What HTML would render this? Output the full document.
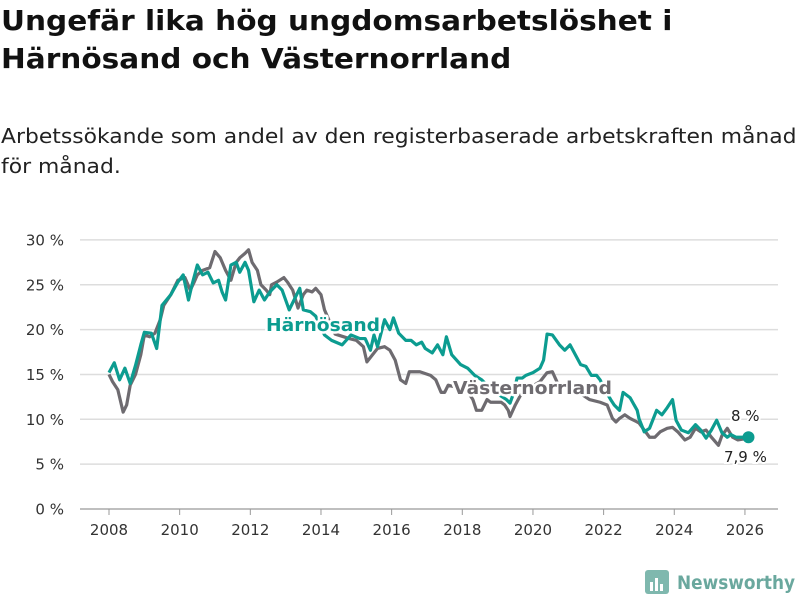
<!DOCTYPE html>
<html><head><meta charset="utf-8">
<style>
body{margin:0;background:#fff;width:800px;height:600px;overflow:hidden;font-family:"DejaVu Sans","Liberation Sans",sans-serif;}
h1{position:absolute;left:1px;top:2px;margin:0;font-size:28px;line-height:38px;font-weight:bold;color:#111;white-space:nowrap;transform-origin:0 0;transform:scaleX(1.056);}
p{position:absolute;left:1px;top:121px;margin:0;font-size:20px;line-height:30px;color:#222;white-space:nowrap;transform-origin:0 0;transform:scaleX(1.093);}
svg{position:absolute;left:0;top:0;}
</style></head><body>
<h1>Ungefär lika hög ungdomsarbetslöshet i<br>Härnösand och Västernorrland</h1>
<p>Arbetssökande som andel av den registerbaserade arbetskraften månad<br>för månad.</p>
<svg id="c" width="800" height="600" font-family="DejaVu Sans, Liberation Sans, sans-serif"></svg>
<script>
const hDates=[2008.0,2008.15,2008.3,2008.45,2008.6,2008.75,2008.9,2009.0,2009.2,2009.35,2009.5,2009.75,2009.95,2010.1,2010.25,2010.35,2010.5,2010.65,2010.8,2010.95,2011.1,2011.2,2011.3,2011.45,2011.6,2011.7,2011.85,2011.95,2012.1,2012.25,2012.4,2012.5,2012.6,2012.75,2012.9,2013.1,2013.4,2013.5,2013.7,2013.85,2014.1,2014.3,2014.6,2014.85,2015.1,2015.25,2015.4,2015.5,2015.6,2015.8,2015.95,2016.05,2016.2,2016.4,2016.55,2016.7,2016.85,2016.95,2017.15,2017.3,2017.45,2017.55,2017.7,2017.95,2018.15,2018.35,2018.55,2018.7,2018.9,2019.05,2019.25,2019.35,2019.45,2019.55,2019.7,2019.8,2020.0,2020.2,2020.3,2020.4,2020.55,2020.75,2020.9,2021.05,2021.2,2021.35,2021.5,2021.65,2021.8,2021.9,2022.05,2022.2,2022.3,2022.45,2022.55,2022.75,2022.95,2023.0,2023.15,2023.3,2023.5,2023.65,2023.8,2023.95,2024.05,2024.2,2024.4,2024.6,2024.75,2024.9,2025.05,2025.2,2025.35,2025.5,2025.6,2025.75,2025.9,2026.1];
const hVals=[15.2,16.3,14.4,15.7,14.0,16.0,18.3,19.7,19.6,17.9,22.7,23.9,25.3,26.1,23.3,25.0,27.2,26.1,26.4,25.2,25.5,24.2,23.3,27.2,27.5,26.4,27.5,26.6,23.1,24.4,23.3,23.9,24.4,25.0,24.4,22.2,24.6,22.2,22.0,21.5,19.4,18.8,18.3,19.4,19.0,19.0,17.7,19.4,18.1,21.1,20.0,21.3,19.6,18.8,18.8,18.3,18.6,17.9,17.4,18.3,17.2,19.2,17.2,16.1,15.7,14.9,14.4,13.8,13.2,12.7,12.2,11.8,12.9,14.6,14.6,14.9,15.2,15.7,16.6,19.5,19.4,18.3,17.7,18.3,17.2,16.1,15.9,14.9,14.9,14.4,13.2,12.2,11.6,11.0,13.0,12.4,11.0,10.1,8.6,9.0,11.0,10.5,11.3,12.2,9.9,8.8,8.5,9.4,8.8,7.9,8.8,9.9,8.5,8.0,8.3,8.0,8.0,8.0];
const vDates=[2008.0,2008.1,2008.25,2008.4,2008.5,2008.6,2008.75,2008.9,2009.0,2009.15,2009.3,2009.45,2009.55,2009.75,2009.95,2010.15,2010.3,2010.4,2010.5,2010.65,2010.85,2011.0,2011.15,2011.3,2011.45,2011.6,2011.7,2011.85,2011.95,2012.05,2012.2,2012.3,2012.45,2012.55,2012.6,2012.75,2012.95,2013.05,2013.2,2013.35,2013.5,2013.6,2013.75,2013.85,2014.0,2014.1,2014.4,2014.8,2015.0,2015.2,2015.3,2015.6,2015.8,2015.95,2016.1,2016.25,2016.4,2016.5,2016.8,2017.1,2017.25,2017.4,2017.5,2017.6,2017.9,2018.2,2018.3,2018.4,2018.55,2018.7,2018.8,2019.1,2019.2,2019.3,2019.35,2019.5,2019.65,2019.9,2020.2,2020.4,2020.55,2020.7,2021.0,2021.3,2021.6,2021.9,2022.1,2022.25,2022.35,2022.45,2022.6,2022.75,2023.0,2023.15,2023.3,2023.45,2023.6,2023.8,2023.95,2024.1,2024.3,2024.45,2024.6,2024.75,2024.9,2025.05,2025.25,2025.35,2025.5,2025.65,2025.8,2026.1];
const vVals=[15.0,14.2,13.3,10.8,11.6,13.8,15.0,17.2,19.4,19.2,19.6,21.1,22.7,23.9,25.5,25.8,24.4,25.2,26.1,26.6,26.9,28.7,28.0,26.6,25.5,27.5,28.0,28.5,28.9,27.5,26.6,25.0,24.4,23.9,25.0,25.3,25.8,25.3,24.4,22.4,23.9,24.4,24.2,24.6,23.9,22.2,19.5,19.0,18.8,18.1,16.4,17.9,18.1,17.7,16.6,14.4,14.0,15.3,15.3,14.9,14.4,13.0,13.0,13.8,13.5,12.8,12.2,11.0,11.0,12.2,11.9,11.9,11.6,11.0,10.3,11.6,12.7,13.5,14.2,15.2,15.3,14.0,13.5,13.0,12.2,11.9,11.6,10.1,9.7,10.1,10.5,10.1,9.6,8.8,8.0,8.0,8.6,9.0,9.1,8.6,7.7,8.0,9.0,8.6,8.8,8.0,7.1,8.2,9.0,8.0,7.7,7.9];
const yTicks=[0,5,10,15,20,25,30];
const xTicks=[2008,2010,2012,2014,2016,2018,2020,2022,2024,2026];
const NS="http://www.w3.org/2000/svg",svg=document.getElementById('c');
const X=v=>109+(v-2008)*35.33, Y=v=>509-v*8.97;
function mk(t,a,txt){const e=document.createElementNS(NS,t);for(const k in a)e.setAttribute(k,a[k]);if(txt!==undefined)e.textContent=txt;svg.appendChild(e);return e;}
yTicks.forEach(t=>{
 const g=mk('line',{x1:80,x2:778,y1:Y(t),y2:Y(t),stroke:t===0?'#999':'#ddd','stroke-width':t===0?1.2:1.5});
 
 
 const l=mk('text',{x:64,y:Y(t)+5.5,'text-anchor':'end','font-size':15,fill:'#333'},t+' %');
 
 
});
xTicks.forEach(t=>{
 const m=mk('line',{x1:X(t),x2:X(t),y1:509,y2:515,stroke:'#999'});
 
 
 const l=mk('text',{x:X(t),y:535,'text-anchor':'middle','font-size':15,fill:'#333'},t);
 
 
});
function line(d,v,c,n){const p=mk('polyline',{points:d.map((x,i)=>X(x)+','+Y(v[i])).join(' '),fill:'none',stroke:c,'stroke-width':3.2,'stroke-linejoin':'round'});
 
 }
line(vDates,vVals,'#6e6b70','line-vasternorrland');
line(hDates,hVals,'#0c9c90','line-harnosand');
const dot=mk('circle',{cx:X(hDates[hDates.length-1]),cy:Y(hVals[hVals.length-1]),r:6,fill:'#0c9c90'});


const sty={'font-weight':'bold','font-size':18,stroke:'#fff','stroke-width':5,'paint-order':'stroke','stroke-linejoin':'round',lengthAdjust:'spacingAndGlyphs'};
const l1=mk('text',Object.assign({x:266,y:331,fill:'#0c9c90',textLength:114},sty),'Härnösand');


const l2=mk('text',Object.assign({x:453,y:394,fill:'#6e6b70',textLength:159},sty),'Västernorrland');


const s2={'font-size':15,fill:'#222',stroke:'#fff','stroke-width':4,'paint-order':'stroke'};
const e1=mk('text',Object.assign({x:731,y:421},s2),'8 %');


const e2=mk('text',Object.assign({x:724,y:462},s2),'7,9 %');


</script>
<svg width="800" height="600" style="pointer-events:none">
<rect x="645" y="570" width="24" height="24" rx="3" fill="#7fb8ae"/>
<rect x="650" y="582" width="3" height="9" fill="#fff"/><rect x="655" y="578" width="3" height="13" fill="#fff"/><rect x="660" y="584" width="3" height="7" fill="#fff"/>
<text x="677" y="589" font-size="19" font-weight="bold" fill="#6aa89e" font-family="DejaVu Sans,sans-serif" textLength="118" lengthAdjust="spacingAndGlyphs">Newsworthy</text>
</svg>
</body></html>
